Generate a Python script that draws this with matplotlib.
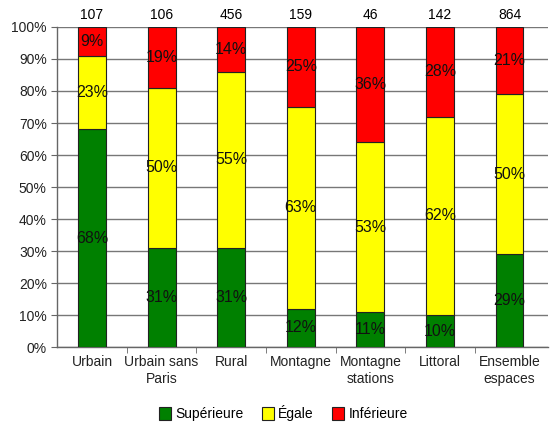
import numpy as np
import matplotlib
matplotlib.use("Agg")
import matplotlib.pyplot as plt
import matplotlib.ticker as mtick

plt.rcParams['font.family'] = ['Liberation Sans', 'DejaVu Sans']

# Données
categories = ['Urbain', 'Urbain sans\nParis', 'Rural', 'Montagne',
              'Montagne\nstations', 'Littoral', 'Ensemble\nespaces']
effectifs = [107, 106, 456, 159, 46, 142, 864]
superieure = [68, 31, 31, 12, 11, 10, 29]
egale = [23, 50, 55, 63, 53, 62, 50]
inferieure = [9, 19, 14, 25, 36, 28, 21]

series = [('Supérieure', superieure, '#008000'),
          ('Égale', egale, '#FFFF00'),
          ('Inférieure', inferieure, '#FF0000')]

fig = plt.figure(figsize=(5.5, 4.28), dpi=100)
ax = fig.add_axes([0.104, 0.189, 0.892, 0.748])

x = np.arange(len(categories))
bas = np.zeros(len(categories))
handles = []
for nom, vals, couleur in series:
    vals = np.array(vals, dtype=float)
    b = ax.bar(x, vals, 0.4, bottom=bas, color=couleur, edgecolor='#222222',
               linewidth=0.8, zorder=3, label=nom)
    handles.append(b)
    for xi, v, y0 in zip(x, vals, bas):
        ax.text(xi, y0 + v / 2, f'{int(v)}%', ha='center', va='center',
                fontsize=11.5, color='#111111', zorder=4)
    bas += vals

# Effectifs au-dessus des barres
for xi, n in zip(x, effectifs):
    ax.text(xi, 101.5, str(n), ha='center', va='bottom', fontsize=10, clip_on=False)

ax.set_xlim(-0.5, 6.55)
ax.set_ylim(0, 100)
ax.set_yticks(np.arange(0, 101, 10))
ax.yaxis.set_major_formatter(mtick.FuncFormatter(lambda v, _: f'{v:.0f}%'))
ax.set_xticks(x)
ax.set_xticklabels(categories, fontsize=10, color='#222222')
ax.set_xticks(np.arange(0.5, 6, 1), minor=True)
ax.tick_params(axis='x', which='major', length=0, pad=6)
ax.tick_params(axis='x', which='minor', length=4, color='#666666')
ax.tick_params(axis='y', labelsize=10, labelcolor='#222222', length=4, color='#666666')

ax.grid(axis='y', color='#777777', linewidth=1, zorder=0)
for s in ['top', 'right']:
    ax.spines[s].set_visible(False)
for s in ['left', 'bottom']:
    ax.spines[s].set_color('#666666')
    ax.spines[s].set_linewidth(1)

fig.legend(handles=handles, loc='center', bbox_to_anchor=(0.515, 0.035), ncol=3,
           frameon=False, fontsize=10, handlelength=0.9, handleheight=1.1,
           handletextpad=0.3, columnspacing=1.3)

plt.savefig('out.png', dpi=100)
